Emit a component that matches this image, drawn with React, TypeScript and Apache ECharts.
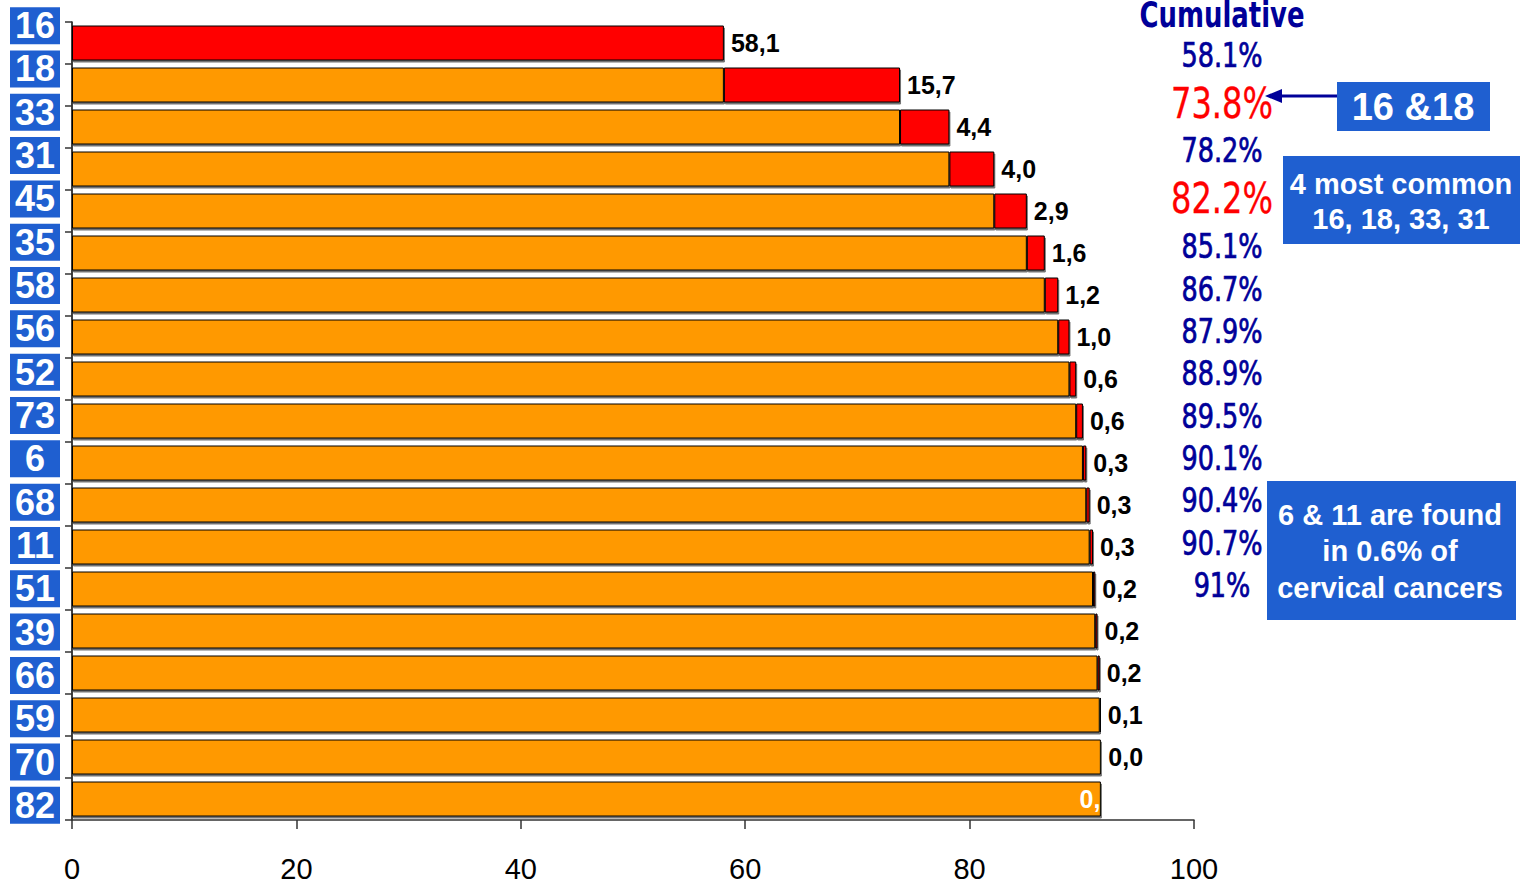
import React, { useEffect, useRef } from "react";
import * as echarts from "echarts";

// HPV types, ordered by their share of cervical cancers
const hpvTypes = ["16", "18", "33", "31", "45", "35", "58", "56", "52", "73", "6", "68", "11", "51", "39", "66", "59", "70", "82"];
// Share of cases attributed to each type (%)
const typeShares = [58.1, 15.7, 4.4, 4.0, 2.9, 1.6, 1.2, 1.0, 0.6, 0.6, 0.3, 0.3, 0.3, 0.2, 0.2, 0.2, 0.1, 0.0, 0.0];
// Running totals shown in the "Cumulative" column
const cumulativeLabels = ["58.1%", "73.8%", "78.2%", "82.2%", "85.1%", "86.7%", "87.9%", "88.9%", "89.5%", "90.1%", "90.4%", "90.7%", "91%"];
const highlightedTotals = [1, 3];
const xTicks = [0, 20, 40, 60, 80, 100];

// Offset of each bar: the sum of all shares above it
const baseOffsets: number[] = [];
typeShares.reduce((acc, v) => {
  baseOffsets.push(Math.round(acc * 10) / 10);
  return acc + v;
}, 0);

const fmtShare = (v: number) => v.toFixed(1).replace(".", ",");

const BLUE_BOX = "#1f5fd0";
const NAVY = "#000099";
const CONDENSED = "'DejaVu Sans Condensed', 'Liberation Sans', sans-serif";
const SANS = "'Liberation Sans', Arial, sans-serif";

// vertical centres of the cumulative column entries
const cumulativeY = [55, 103, 150, 198, 246, 289, 331, 373, 416, 458, 500, 543, 585];

export default function App() {
  const ref = useRef<HTMLDivElement>(null);

  useEffect(() => {
    if (!ref.current) return;
    const chart = echarts.init(ref.current, undefined, { renderer: "svg" });

    const barStyle = {
      borderColor: "#000",
      borderWidth: 1,
      shadowColor: "rgba(0,0,0,0.55)",
      shadowBlur: 1,
      shadowOffsetX: 1,
      shadowOffsetY: 2,
    };

    const lastIdx = typeShares.length - 1;

    const graphic: any[] = [
      {
        type: "text",
        x: 1222,
        y: 15,
        scaleX: 0.8,
        style: {
          text: "Cumulative",
          fill: NAVY,
          font: `bold 36px ${CONDENSED}`,
          align: "center",
          verticalAlign: "middle",
        },
      },
      ...cumulativeLabels.map((t, i) => {
        const hot = highlightedTotals.includes(i);
        return {
          type: "text",
          x: 1222,
          y: cumulativeY[i],
          scaleX: hot ? 0.85 : 0.86,
          style: {
            text: t,
            fill: hot ? "#ff0000" : NAVY,
            stroke: hot ? "#ff0000" : NAVY,
            lineWidth: hot ? 0.3 : 0.7,
            font: hot ? `42px ${CONDENSED}` : `33px ${CONDENSED}`,
            align: "center",
            verticalAlign: "middle",
          },
        };
      }),
      // "16 & 18" call-out with arrow
      {
        type: "line",
        shape: { x1: 1337, y1: 96, x2: 1278, y2: 96 },
        style: { stroke: NAVY, lineWidth: 3 },
      },
      {
        type: "polygon",
        shape: { points: [[1265, 96], [1282, 89], [1282, 103]] },
        style: { fill: NAVY },
      },
      {
        type: "rect",
        shape: { x: 1337, y: 82, width: 153, height: 49 },
        style: { fill: BLUE_BOX },
      },
      {
        type: "text",
        x: 1413,
        y: 107,
        style: {
          text: "16 &18",
          fill: "#fff",
          font: `bold 38px ${SANS}`,
          align: "center",
          verticalAlign: "middle",
        },
      },
      {
        type: "rect",
        shape: { x: 1283, y: 156, width: 237, height: 88 },
        style: { fill: BLUE_BOX },
      },
      {
        type: "text",
        x: 1401,
        y: 201,
        style: {
          text: "4 most common\n16, 18, 33, 31",
          fill: "#fff",
          font: `bold 29px ${SANS}`,
          lineHeight: 35,
          align: "center",
          verticalAlign: "middle",
        },
      },
      {
        type: "rect",
        shape: { x: 1267, y: 481, width: 249, height: 139 },
        style: { fill: BLUE_BOX },
      },
      {
        type: "text",
        x: 1390,
        y: 551,
        style: {
          text: "6 & 11 are found\nin 0.6% of\ncervical cancers",
          fill: "#fff",
          font: `bold 29px ${SANS}`,
          lineHeight: 36.5,
          align: "center",
          verticalAlign: "middle",
        },
      },
    ];

    chart.setOption({
      animation: false,
      backgroundColor: "#fff",
      grid: [
        { left: 72, right: 326, top: 22, bottom: 64, containLabel: false },
        { left: 72, right: 326, top: 4, bottom: 57, containLabel: false },
      ],
      xAxis: [
        {
          type: "value",
          gridIndex: 0,
          min: 0,
          max: 100,
          interval: 20,
          splitLine: { show: false },
          axisLine: { show: true, lineStyle: { color: "#333", width: 1.5 } },
          axisTick: { show: true, length: 9, lineStyle: { color: "#333", width: 1.5 } },
          axisLabel: {
            margin: 34,
            fontSize: 29,
            color: "#000",
            fontFamily: SANS,
            customValues: xTicks,
          },
        },
        { type: "value", gridIndex: 1, show: false, min: 0, max: 100 },
      ],
      yAxis: [
        {
          type: "category",
          gridIndex: 0,
          data: hpvTypes,
          inverse: true,
          axisLine: { show: true, lineStyle: { color: "#000", width: 1.5 } },
          axisTick: { show: true, length: 7, lineStyle: { color: "#333", width: 1.5 } },
          axisLabel: { show: false },
        },
        {
          type: "category",
          gridIndex: 1,
          data: hpvTypes,
          inverse: true,
          axisLine: { show: false },
          axisTick: { show: false },
          axisLabel: {
            show: true,
            margin: 12,
            align: "right",
            formatter: (v: string) => `{b|${v}}`,
            rich: {
              b: {
                width: 50,
                height: 37,
                lineHeight: 37,
                align: "center",
                backgroundColor: BLUE_BOX,
                color: "#fff",
                fontSize: 36,
                fontWeight: "bold",
                fontFamily: SANS,
              },
            },
          },
        },
      ],
      series: [
        {
          type: "bar",
          name: "base",
          stack: "total",
          xAxisIndex: 0,
          yAxisIndex: 0,
          barWidth: 35,
          data: baseOffsets,
          itemStyle: { color: "#ff9900", ...barStyle },
          label: { show: false },
        },
        {
          type: "bar",
          name: "share",
          stack: "total",
          xAxisIndex: 0,
          yAxisIndex: 0,
          barWidth: 35,
          data: typeShares.map((v, i) =>
            i === lastIdx
              ? {
                  value: v,
                  label: {
                    show: true,
                    position: "left",
                    distance: 0,
                    color: "#fff",
                    formatter: () => fmtShare(v).slice(0, 2),
                  },
                }
              : v
          ),
          itemStyle: { color: "#ff0000", ...barStyle },
          label: {
            show: true,
            position: "right",
            distance: 7,
            color: "#000",
            fontSize: 25,
            fontWeight: "bold",
            fontFamily: SANS,
            formatter: (p: any) => fmtShare(p.value),
          },
        },
      ],
      graphic,
    });

    return () => chart.dispose();
  }, []);

  return (
    <div
      ref={ref}
      style={{ position: "fixed", left: 0, top: 0, width: 1520, height: 884, background: "#fff" }}
    />
  );
}
